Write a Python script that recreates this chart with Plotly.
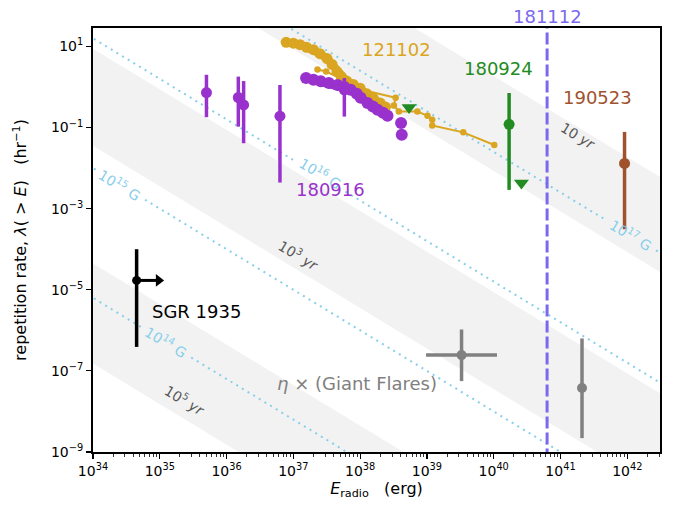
import numpy as np
import plotly.graph_objects as go

# ---------------- data ----------------
# FRB 121102 cumulative rate (dense burst sample)
frb121102_thick_E = [7.8e36, 1.0e37, 1.26e37, 1.58e37, 2.0e37, 2.5e37, 3.2e37, 3.8e37, 4.5e37,
                     5.2e37, 6.3e37, 7.9e37, 1.0e38, 1.26e38, 1.58e38, 2.0e38, 2.4e38]
frb121102_thick_rate = [12.6, 12.0, 11.0, 9.5, 8.3, 6.6, 5.0, 3.6, 2.4,
                        1.8, 1.4, 1.15, 0.93, 0.68, 0.52, 0.40, 0.32]
# FRB 121102 second sample (thin line)
frb121102_thin_E = [2.3e37, 3.1e37, 7.1e37, 9.5e37, 3.4e38, 3.2e38, 3.8e38, 7.2e38,
                    1.02e39, 1.2e39, 1.2e39, 3.5e39, 1.02e40]
frb121102_thin_rate = [2.7, 2.4, 1.26, 0.89, 0.54, 0.35, 0.25, 0.25,
                       0.195, 0.155, 0.112, 0.076, 0.037]

# FRB 180916 cumulative rate
frb180916_curve_E = [1.55e37, 2.0e37, 2.57e37, 3.4e37, 4.6e37, 5.8e37, 7.2e37, 8.9e37,
                     1.02e38, 1.29e38, 1.55e38, 1.82e38, 2.2e38, 2.57e38]
frb180916_curve_rate = [1.66, 1.51, 1.38, 1.26, 1.12, 1.0, 0.85, 0.68,
                        0.54, 0.40, 0.33, 0.275, 0.23, 0.195]
frb180916_dots_E = [4.1e38, 4.2e38]
frb180916_dots_rate = [0.129, 0.066]
# FRB 180916 points with error bars
frb180916_err_E = [5.0e35, 1.5e36, 1.8e36, 6.3e36, 5.8e37]
frb180916_err_rate = [0.73, 0.55, 0.36, 0.19, 0.85]
frb180916_err_hi = [2.0, 1.8, 1.4, 1.12, 1.66]
frb180916_err_lo = [0.18, 0.105, 0.041, 0.0044, 0.186]

# FRB 180924
frb180924_E = [1.7e40]
frb180924_rate = [0.12]
frb180924_hi = [0.71]
frb180924_lo = [0.0029]
frb180924_lim_E = [5.4e38, 2.6e40]
frb180924_lim_rate = [0.31, 0.0043]

# FRB 181112 (energy only)
frb181112_E = 6.3e40

# FRB 190523
frb190523_E = [9.1e41]
frb190523_rate = [0.013]
frb190523_hi = [0.078]
frb190523_lo = [3.1e-4]

# SGR 1935+2154
sgr_E = [4.5e34]
sgr_rate = [1.7e-5]
sgr_hi = [1.0e-4]
sgr_lo = [3.9e-7]
sgr_arrow_E = [4.5e34, 9.6e34]

# eta x (Giant Flares)
gf_E = [3.3e39, 2.1e41]
gf_rate = [2.45e-7, 3.8e-8]
gf_rate_hi = [1.05e-6, 6.3e-7]
gf_rate_lo = [5.6e-8, 2.2e-9]
gf_E_lo = [9.7e38, 2.1e41]
gf_E_hi = [1.12e40, 2.1e41]

# constant lambda*E lines (log10 of lambda*E in hr^-1 erg) for B fields
field_labels = ["10<sup>14</sup> G", "10<sup>15</sup> G", "10<sup>16</sup> G", "10<sup>17</sup> G"]
field_logC = [28.8, 32.0, 35.2, 38.4]
field_label_logE = [35.10, 34.41, 37.41, 42.06]

# lifetime bands (log10 of lambda*E bounds)
band_labels = ["10<sup>5</sup> <i>yr</i>", "10<sup>3</sup> <i>yr</i>", "10 <i>yr</i>"]
band_lo = [27.18, 32.55, 37.93]
band_hi = [29.65, 34.94, 40.27]

# tick labels
x_tick_exp = [34, 35, 36, 37, 38, 39, 40, 41, 42]
y_tick_exp = [-9, -7, -5, -3, -1, 1]

# ---------------- figure ----------------
FONT = "DejaVu Sans"
C_121102 = "#DAA520"
C_180916 = "#9932CC"
C_180924 = "#228B22"
C_181112 = "#7B68EE"
C_190523 = "#A0522D"
C_GF = "#808080"
C_FIELD = "#87CEEB"
C_BAND = "#f2f2f2"
C_BANDTXT = "#585858"

fig = go.Figure()
E_min, E_max = 1e33, 1e44

# bands
for lo, hi in zip(band_lo, band_hi):
    xs = [E_min, E_max, E_max, E_min, E_min]
    ys = [10**hi / E_min, 10**hi / E_max, 10**lo / E_max, 10**lo / E_min, 10**hi / E_min]
    fig.add_trace(go.Scatter(x=xs, y=ys, mode="lines", fill="toself", fillcolor=C_BAND,
                             line=dict(width=0), hoverinfo="skip", showlegend=False))

# field lines with gaps for inline labels
gap = 0.37
for logC, lE in zip(field_logC, field_label_logE):
    for a, b in [(33.0, lE - gap), (lE + gap, 44.0)]:
        xs = [10**a, 10**b]
        ys = [10**(logC - a), 10**(logC - b)]
        fig.add_trace(go.Scatter(x=xs, y=ys, mode="lines",
                                 line=dict(color=C_FIELD, width=2, dash="2px,4.6px"),
                                 hoverinfo="skip", showlegend=False))

# 181112 vertical line
fig.add_trace(go.Scatter(x=[frb181112_E, frb181112_E], y=[1e-10, 1e3], mode="lines",
                         line=dict(color=C_181112, width=3, dash="12px,4px"), showlegend=False))

# 121102
fig.add_trace(go.Scatter(x=frb121102_thin_E, y=frb121102_thin_rate, mode="lines+markers",
                         line=dict(color=C_121102, width=2), marker=dict(size=6.5, color=C_121102),
                         showlegend=False))
fig.add_trace(go.Scatter(x=frb121102_thick_E, y=frb121102_thick_rate, mode="lines+markers",
                         line=dict(color=C_121102, width=8), marker=dict(size=11, color=C_121102),
                         showlegend=False))

# 180916
fig.add_trace(go.Scatter(x=frb180916_curve_E, y=frb180916_curve_rate, mode="lines+markers",
                         line=dict(color=C_180916, width=8), marker=dict(size=12, color=C_180916),
                         showlegend=False))
fig.add_trace(go.Scatter(x=frb180916_dots_E, y=frb180916_dots_rate, mode="markers",
                         marker=dict(size=12, color=C_180916), showlegend=False))
fig.add_trace(go.Scatter(
    x=frb180916_err_E, y=frb180916_err_rate, mode="markers",
    marker=dict(size=11, color=C_180916),
    error_y=dict(type="data", symmetric=False,
                 array=[h - r for h, r in zip(frb180916_err_hi, frb180916_err_rate)],
                 arrayminus=[r - l for l, r in zip(frb180916_err_lo, frb180916_err_rate)],
                 color=C_180916, thickness=3.5, width=0),
    showlegend=False))

# 180924
fig.add_trace(go.Scatter(
    x=frb180924_E, y=frb180924_rate, mode="markers", marker=dict(size=11, color=C_180924),
    error_y=dict(type="data", symmetric=False,
                 array=[h - r for h, r in zip(frb180924_hi, frb180924_rate)],
                 arrayminus=[r - l for l, r in zip(frb180924_lo, frb180924_rate)],
                 color=C_180924, thickness=3.5, width=0),
    showlegend=False))
fig.add_trace(go.Scatter(x=frb180924_lim_E, y=frb180924_lim_rate, mode="markers",
                         marker=dict(symbol="triangle-down", size=13, color=C_180924),
                         showlegend=False))

# 190523
fig.add_trace(go.Scatter(
    x=frb190523_E, y=frb190523_rate, mode="markers", marker=dict(size=11, color=C_190523),
    error_y=dict(type="data", symmetric=False,
                 array=[h - r for h, r in zip(frb190523_hi, frb190523_rate)],
                 arrayminus=[r - l for l, r in zip(frb190523_lo, frb190523_rate)],
                 color=C_190523, thickness=3.5, width=0),
    showlegend=False))

# SGR 1935
fig.add_trace(go.Scatter(x=sgr_arrow_E, y=[sgr_rate[0]] * 2, mode="lines",
                         line=dict(color="black", width=3), showlegend=False))
fig.add_trace(go.Scatter(x=[sgr_arrow_E[-1]], y=[sgr_rate[0]], mode="markers",
                         marker=dict(symbol="triangle-right", size=11, color="black"),
                         showlegend=False))
fig.add_trace(go.Scatter(
    x=sgr_E, y=sgr_rate, mode="markers", marker=dict(size=9, color="black"),
    error_y=dict(type="data", symmetric=False,
                 array=[h - r for h, r in zip(sgr_hi, sgr_rate)],
                 arrayminus=[r - l for l, r in zip(sgr_lo, sgr_rate)],
                 color="black", thickness=3.5, width=0),
    showlegend=False))

# Giant flares
fig.add_trace(go.Scatter(
    x=gf_E, y=gf_rate, mode="markers", marker=dict(size=10, color=C_GF),
    error_y=dict(type="data", symmetric=False,
                 array=[h - r for h, r in zip(gf_rate_hi, gf_rate)],
                 arrayminus=[r - l for l, r in zip(gf_rate_lo, gf_rate)],
                 color=C_GF, thickness=3.5, width=0),
    error_x=dict(type="data", symmetric=False,
                 array=[h - e for h, e in zip(gf_E_hi, gf_E)],
                 arrayminus=[e - l for l, e in zip(gf_E_lo, gf_E)],
                 color=C_GF, thickness=3.5, width=0),
    showlegend=False))

# ---------------- annotations ----------------
ann = []
ANG = 31.3

def txt(xlog, ylog, text, color, size, angle=0, xref="x", yref="y", yshift=0):
    ann.append(dict(x=xlog, y=ylog, xref=xref, yref=yref, text=text, showarrow=False,
                    font=dict(family=FONT, size=size, color=color), textangle=angle,
                    xanchor="center", yanchor="middle", yshift=yshift))

field_label_yshift = [0, 0, 4, 0]
for lab, logC, lE, ys in zip(field_labels, field_logC, field_label_logE, field_label_yshift):
    txt(lE, logC - lE, lab, C_FIELD, 14, ANG, yshift=ys)

band_label_pos = [(35.38, -7.72), (37.08, -4.14), (41.26, -1.22)]
for lab, (lx, ly) in zip(band_labels, band_label_pos):
    txt(lx, ly, lab, C_BANDTXT, 14, ANG)

txt(38.55, 0.92, "121102", C_121102, 18)
txt(40.07, 0.45, "180924", C_180924, 18)
txt(41.56, -0.27, "190523", C_190523, 18)
txt(37.56, -2.54, "180916", C_180916, 18)
txt(35.55, -5.53, "SGR 1935", "black", 18)
txt(37.96, -7.30, "<i>η</i> × (Giant Flares)", C_GF, 18)
txt(np.log10(frb181112_E), 1.027, "181112", C_181112, 18, yref="paper")

# ---------------- layout ----------------
minor_x = [k * 10.0**d for d in range(34, 43) for k in range(2, 10)]

fig.update_layout(
    width=673, height=508,
    margin=dict(l=93, r=13, t=28, b=56, autoexpand=False),
    paper_bgcolor="white", plot_bgcolor="white",
    font=dict(family=FONT, size=14, color="black"),
    annotations=ann,
    xaxis=dict(type="log", range=[34, 42.49], showgrid=False, zeroline=False,
               automargin=False,
               showline=True, linecolor="black", linewidth=2, mirror=True,
               ticks="outside", ticklen=5, tickwidth=1.2, tickcolor="black",
               tickmode="array", tickvals=[10.0**e for e in x_tick_exp],
               ticktext=["10<sup>%d</sup>" % e for e in x_tick_exp],
               tickfont=dict(family=FONT, size=14),
               minor=dict(tickmode="array", tickvals=minor_x, ticks="outside",
                          ticklen=2.5, tickwidth=0.8, tickcolor="black", showgrid=False),
               title=dict(text="<i>E</i><sub>radio</sub>   (erg)",
                          font=dict(family=FONT, size=16), standoff=2)),
    yaxis=dict(type="log", range=[-9, 1.454], showgrid=False, zeroline=False,
               automargin=False,
               showline=True, linecolor="black", linewidth=2, mirror=True,
               ticks="outside", ticklen=5, tickwidth=1.2, tickcolor="black",
               tickmode="array", tickvals=[10.0**e for e in y_tick_exp],
               ticktext=["10<sup>%s</sup>" % (str(e).replace("-", "\u2212")) for e in y_tick_exp],
               tickfont=dict(family=FONT, size=14),
               title=dict(text="repetition rate, <i>λ</i>( > <i>E</i>)   (hr<sup>\u22121</sup>)",
                          font=dict(family=FONT, size=16), standoff=20)),
)

fig.write_html("out.html", config={"displayModeBar": False, "staticPlot": True})

# remove the browser's default page margin so the figure sits at (0, 0)
with open("out.html", "r", encoding="utf-8") as f:
    html = f.read()
html = html.replace("<head>", "<head><style>html,body{margin:0;padding:0;}</style>", 1)
with open("out.html", "w", encoding="utf-8") as f:
    f.write(html)
